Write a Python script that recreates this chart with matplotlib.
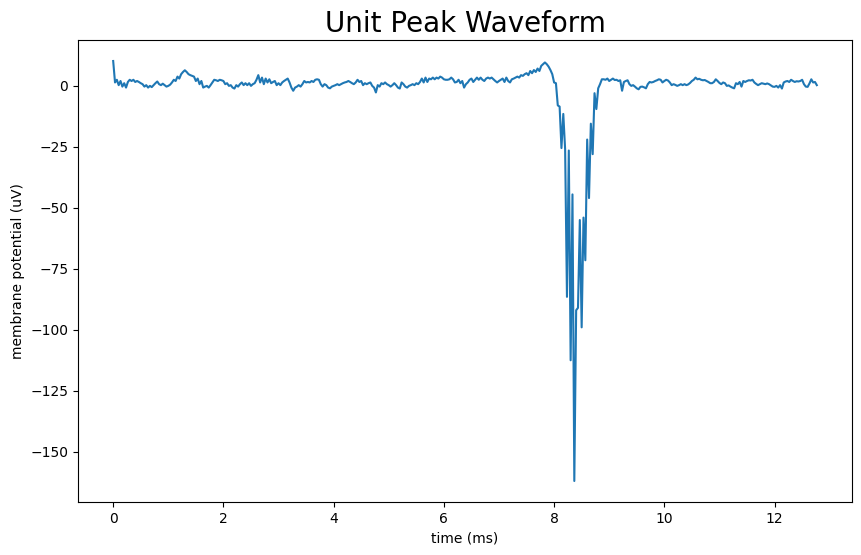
import numpy as np
import matplotlib
matplotlib.use("Agg")
import matplotlib.pyplot as plt

# sampling rate of the recording (kHz) -> sample spacing in ms
SAMPLE_RATE_KHZ = 30.0

# peak-channel waveform (uV), split in pieces
seg_start = [10.2, 1.4, 2.5, 0.3, 2.0, -0.3, 1.1, -0.7, 1.6, 2.5,
             2.0, 2.5, 1.6, 2.0, 1.6, 1.1, 0.7, -0.3, 0.3, -0.7,
             0.0, -0.5, 0.3, 1.1, 1.8, 0.7, 0.3, 0.9, 0.3, -0.3,
             0.0, 0.5, 1.4, 2.5, 2.0, 3.8, 3.0, 4.8, 5.7, 6.4,
             5.7, 4.8, 4.4, 4.1, 3.8, 2.0, 3.0, 0.7, 2.0, -0.7,
             -0.3, 0.0, -0.7, 0.3, 1.4, 2.5, 2.3, 2.0, 2.5, 2.3,
             2.0, 0.7, 1.1, 0.0, 0.3, -0.7]
seg_early = [-1.1, 0.3, -0.3, 0.7, 1.4, 0.3, 1.1, 0.3, 1.1, 0.0,
             0.7, 1.1, 2.5, 4.4, 1.4, 3.4, 0.7, 3.0, 1.4, 2.7,
             1.1, 1.6, 2.0, 0.3, 1.1, 0.3, 1.4, 2.0, 2.5, 3.0,
             1.4, -0.7, -2.0, -0.7, -0.3, 0.3, -0.3, 0.7, 2.0, 1.4,
             1.6, 1.4, 2.0, 1.6, 2.5, 2.7, 2.5, 0.7, -0.3, 0.7,
             0.3, -0.7, -1.0, -0.3, 0.0, 0.3, 0.7, 0.3, 0.7, 1.1,
             1.4, 1.6, 2.0, 1.6, 1.1, 0.7]
seg_mid = [1.4, 2.5, 1.6, 2.0, 0.3, 1.1, 0.7, 1.1, 1.4, 0.0,
           -0.7, -2.7, 0.3, -0.3, 1.1, 0.7, 1.4, 0.7, 0.3, -0.3,
           0.3, 1.1, 0.3, -0.7, -1.1, 1.4, 0.7, -0.3, -0.7, 0.0,
           0.3, 0.7, 0.3, 1.1, 0.7, 1.6, 3.0, 1.4, 3.4, 1.6,
           3.0, 2.7, 3.4, 2.7, 3.4, 3.0, 3.8, 3.4, 2.7, 2.5,
           2.5, 2.7, 3.4, 2.7, 1.4, 1.6, 2.5, 1.1, 2.0, -0.7,
           0.7, 1.4, 2.5, 3.0, 1.6, 2.5, 3.4]
seg_rise = [2.5, 3.4, 2.5, 2.0, 3.0, 3.4, 3.0, 3.4, 2.7, 2.0,
            1.4, 2.0, 2.5, 3.0, 1.6, 3.4, 2.0, 1.4, 2.7, 3.0,
            3.4, 3.8, 3.4, 4.4, 4.1, 4.8, 5.2, 4.4, 6.1, 5.2,
            6.5, 5.7, 7.1, 6.1, 8.2, 8.9, 9.6]
seg_spike = [8.9, 7.9, 6.5, 4.8, 1.4, 1.1, -8.0, -8.5, -25.5, -11.5,
             -26.0, -86.5, -26.5, -112.5, -44.5, -162.0, -92.0, -91.0, -55.0, -99.0,
             -54.0, -71.5, -22.0, -46.0, -15.5, -28.0, -3.0, -9.5, -1.0, 0.7,
             2.7]
seg_after = [2.7, 2.5, 3.0, 2.0, 2.5, 3.0, 2.4, 2.5, 2.0, 2.3,
             -2.0, 1.6, 2.0, 2.3, 0.7, 0.0, 0.3, -0.3, -1.0, -1.4,
             -0.4, -0.3, -0.6, -1.0, 0.7, 1.6, 1.4, 1.6, 2.0, 2.3,
             2.7, 2.5, 1.4, 2.0, 2.5, 2.2, 1.4, 0.3, 0.7, 0.4,
             0.0, 0.3, 0.7, 0.3, 0.7, 0.3, 0.6, 1.2, 2.0, 2.5,
             3.4, 2.7, 2.9, 2.5, 2.3, 2.4, 2.0, 1.6, 1.1]
seg_end = [1.1, 1.6, 2.7, 2.0, 1.2, 0.7, 1.4, 1.1, 0.0, 0.2,
           -0.3, -0.7, -1.0, 1.1, 0.7, 1.6, -0.3, 2.0, 1.6, 2.0,
           2.3, 2.2, 2.5, 1.4, 0.8, 0.3, 0.7, 1.1, 0.9, 0.7,
           1.0, 0.7, 0.2, -0.3, -0.4, 0.0, -0.7, 0.3, -1.1, 1.4,
           1.8, 2.0, 1.6, 2.5, 2.0, 1.6, 1.9, 1.8, 2.0, 2.5,
           0.7, -0.3, -0.4, 1.0, 2.7, 1.4, 1.6, 0.3]

waveform = np.array(seg_start + seg_early + seg_mid + seg_rise
                    + seg_spike + seg_after + seg_end)
time_ms = np.arange(len(waveform)) / SAMPLE_RATE_KHZ

fig = plt.figure(figsize=(8.62, 5.55), dpi=100)
ax = fig.add_axes([78 / 862, 53 / 555, 774 / 862, 462 / 555])
ax.plot(time_ms, waveform)
ax.set_title("Unit Peak Waveform", fontsize=20)
ax.set_xlabel("time (ms)")
ax.set_ylabel("membrane potential (uV)")

fig.savefig("out.png", dpi=100)
plt.close(fig)
